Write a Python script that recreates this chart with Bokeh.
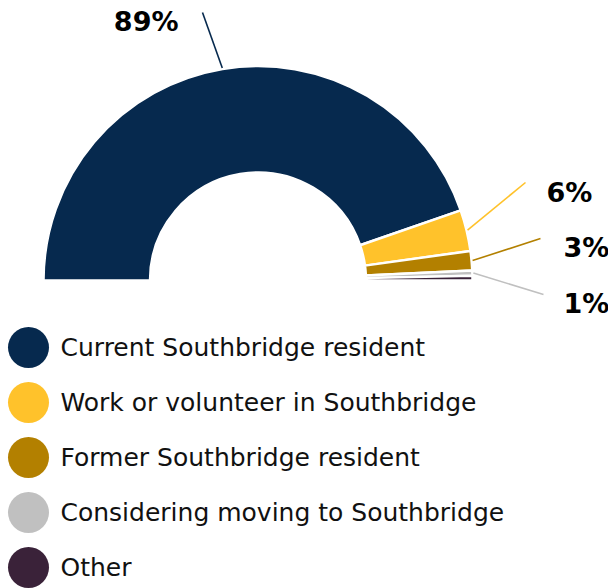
import math
from bokeh.plotting import figure
from bokeh.models import Range1d
from bokeh.core.properties import value
from bokeh.embed import file_html
from bokeh.resources import INLINE

# ---- data ----
categories = ["Current Southbridge resident", "Work or volunteer in Southbridge",
              "Former Southbridge resident", "Considering moving to Southbridge", "Other"]
shares = [89.4, 6.2, 2.9, 0.8, 0.7]
colors = ["#06294e", "#ffc22b", "#b38000", "#c0c0c0", "#3a2239"]
labelled = [True, True, True, True, False]

W, H = 608, 588

def dx(sx):
    return sx

def dy(sy):
    return H - sy

p = figure(width=W, height=H, output_backend="svg", toolbar_location=None,
           x_range=Range1d(0, W), y_range=Range1d(0, H), min_border=0)
p.axis.visible = False
p.grid.visible = False
p.outline_line_color = None
p.background_fill_color = "white"

cx, cy = dx(257.5), dy(280)
r_out, r_in = 214.5, 108

total = sum(shares)
cum = [0.0]
for s in shares:
    cum.append(cum[-1] + s)
starts = [math.pi * (1 - cum[i + 1] / total) for i in range(len(shares))]
ends = [math.pi * (1 - cum[i] / total) for i in range(len(shares))]

p.annular_wedge(x=[cx] * len(shares), y=[cy] * len(shares), inner_radius=r_in, outer_radius=r_out,
                start_angle=starts, end_angle=ends, fill_color=colors,
                line_color="white", line_width=2.5)

# leader lines + labels (layout positions in screen px)
label_ends = [(202, 12), (525, 182), (540, 238), (543, 294)]
label_pos = [(178, 21, "right"), (546, 192, "left"), (563, 247, "left"), (563, 303, "left")]
k = 0
for i, s in enumerate(shares):
    if not labelled[i]:
        continue
    mid = (starts[i] + ends[i]) / 2
    x0 = cx + (r_out + 1) * math.cos(mid)
    y0 = cy + (r_out + 1) * math.sin(mid)
    ex, ey = label_ends[k]
    p.line([x0, dx(ex)], [y0, dy(ey)], line_color=colors[i], line_width=1.6)
    tx, ty, al = label_pos[k]
    p.text(x=[dx(tx)], y=[dy(ty)], text=[f"{round(s)}%"], text_align=al, text_baseline="middle",
           text_font=value("DejaVu Sans"), text_font_style="bold", text_font_size="27px",
           text_color="black")
    k += 1

# legend
for i, c in enumerate(categories):
    sy = 347 + 55 * i
    p.scatter(x=[dx(28)], y=[dy(sy)], size=41, marker="circle", fill_color=colors[i], line_color=None)
    p.text(x=[dx(60)], y=[dy(sy)], text=[c], text_align="left", text_baseline="middle",
           text_font=value("DejaVu Sans"), text_font_size="25px", text_color="#111111")

open("out.html", "w").write(file_html(p, INLINE))
